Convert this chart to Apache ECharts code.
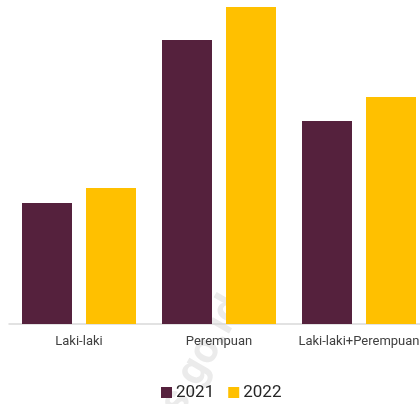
<!DOCTYPE html>
<html lang="en">

<head>
    <meta charset="UTF-8">
    <script src="https://cdn.jsdelivr.net/npm/echarts@6/dist/echarts.min.js"></script>
    <title>Document</title>
    <style>
        body { margin: 0; background: #fff; }
    </style>
</head>

<body>
    <div id="main" style="height: 404px;width: 420px;"></div>

    <script>
        var categories = ['Laki-laki', 'Perempuan', 'Laki-laki+Perempuan'];
        var years = ['2021', '2022'];
        var values2021 = [12.1, 28.4, 20.3];
        var values2022 = [13.6, 31.7, 22.7];

        var chartDom = document.getElementById('main');
        var myChart = echarts.init(chartDom);
        var option = {
            animation: false,
            textStyle: { fontFamily: 'Roboto' },
            // faint watermark behind the bars
            graphic: [{
                type: 'text',
                left: 130,
                top: 290,
                rotation: Math.PI / 3,
                z: -10,
                style: {
                    text: 'bps.go.id',
                    fill: '#ebebeb',
                    font: 'bold 42px Roboto'
                }
            }],
            legend: {
                data: years,
                left: 161,
                top: 384,
                padding: 0,
                itemWidth: 11,
                itemHeight: 11,
                itemGap: 14,
                icon: 'rect',
                textStyle: { fontSize: 17, color: '#262626', padding: [0, 0, 0, -1] }
            },
            grid: {
                left: 9,
                top: 0,
                width: 420,
                height: 324,
                outerBoundsMode: 'none'
            },
            xAxis: {
                type: 'category',
                data: categories,
                axisTick: { show: false },
                axisLine: { lineStyle: { color: '#d9d9d9', width: 1.5 } },
                axisLabel: { color: '#404040', fontSize: 13, margin: 11, interval: 0 }
            },
            yAxis: {
                type: 'value',
                min: 0,
                max: 32.4,
                show: false,
                splitLine: { show: false }
            },
            series: [
                {
                    name: years[0],
                    type: 'bar',
                    data: values2021,
                    barWidth: 50,
                    barGap: '28%',
                    itemStyle: { color: '#55213d' }
                },
                {
                    name: years[1],
                    type: 'bar',
                    data: values2022,
                    barWidth: 50,
                    barGap: '28%',
                    itemStyle: { color: '#ffc000' }
                }
            ]
        };
        myChart.setOption(option);
    </script>
</body>

</html>
